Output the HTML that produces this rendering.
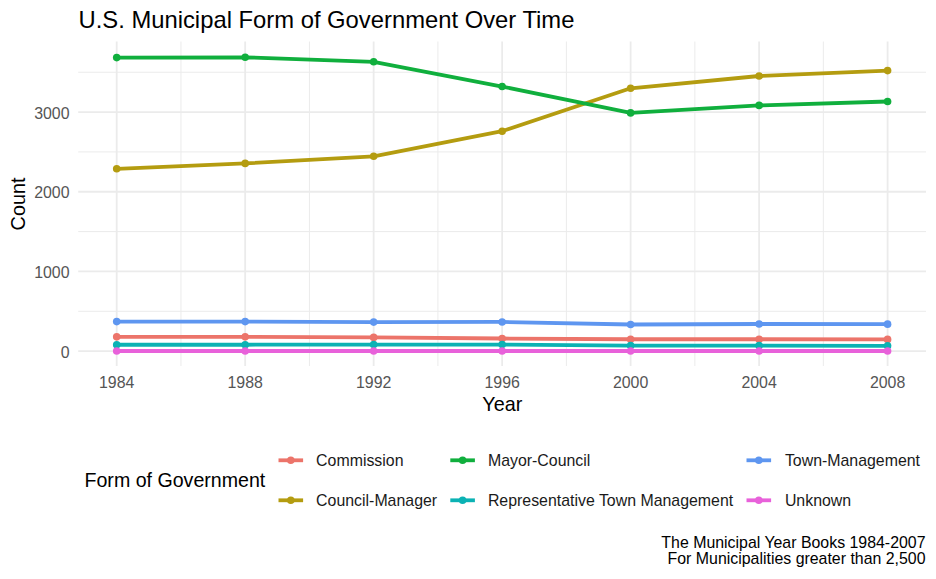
<!DOCTYPE html><html><head><meta charset="utf-8"><style>html,body{margin:0;padding:0;background:#fff;width:936px;height:579px;overflow:hidden}svg{display:block}text{font-family:"Liberation Sans",sans-serif}</style></head><body>
<svg width="936" height="579" viewBox="0 0 936 579">
<rect width="936" height="579" fill="#fff"/>
<line x1="78.2" y1="311.27" x2="926.0" y2="311.27" stroke="#EBEBEB" stroke-width="1"/>
<line x1="78.2" y1="231.60" x2="926.0" y2="231.60" stroke="#EBEBEB" stroke-width="1"/>
<line x1="78.2" y1="151.93" x2="926.0" y2="151.93" stroke="#EBEBEB" stroke-width="1"/>
<line x1="78.2" y1="72.25" x2="926.0" y2="72.25" stroke="#EBEBEB" stroke-width="1"/>
<line x1="180.94" y1="41.5" x2="180.94" y2="366.0" stroke="#EBEBEB" stroke-width="1"/>
<line x1="309.42" y1="41.5" x2="309.42" y2="366.0" stroke="#EBEBEB" stroke-width="1"/>
<line x1="437.90" y1="41.5" x2="437.90" y2="366.0" stroke="#EBEBEB" stroke-width="1"/>
<line x1="566.38" y1="41.5" x2="566.38" y2="366.0" stroke="#EBEBEB" stroke-width="1"/>
<line x1="694.86" y1="41.5" x2="694.86" y2="366.0" stroke="#EBEBEB" stroke-width="1"/>
<line x1="823.34" y1="41.5" x2="823.34" y2="366.0" stroke="#EBEBEB" stroke-width="1"/>
<line x1="78.2" y1="351.10" x2="926.0" y2="351.10" stroke="#EBEBEB" stroke-width="1.8"/>
<line x1="78.2" y1="271.43" x2="926.0" y2="271.43" stroke="#EBEBEB" stroke-width="1.8"/>
<line x1="78.2" y1="191.76" x2="926.0" y2="191.76" stroke="#EBEBEB" stroke-width="1.8"/>
<line x1="78.2" y1="112.09" x2="926.0" y2="112.09" stroke="#EBEBEB" stroke-width="1.8"/>
<line x1="116.70" y1="41.5" x2="116.70" y2="366.0" stroke="#EBEBEB" stroke-width="1.8"/>
<line x1="245.18" y1="41.5" x2="245.18" y2="366.0" stroke="#EBEBEB" stroke-width="1.8"/>
<line x1="373.66" y1="41.5" x2="373.66" y2="366.0" stroke="#EBEBEB" stroke-width="1.8"/>
<line x1="502.14" y1="41.5" x2="502.14" y2="366.0" stroke="#EBEBEB" stroke-width="1.8"/>
<line x1="630.62" y1="41.5" x2="630.62" y2="366.0" stroke="#EBEBEB" stroke-width="1.8"/>
<line x1="759.10" y1="41.5" x2="759.10" y2="366.0" stroke="#EBEBEB" stroke-width="1.8"/>
<line x1="887.58" y1="41.5" x2="887.58" y2="366.0" stroke="#EBEBEB" stroke-width="1.8"/>
<polyline points="116.70,336.84 245.18,336.84 373.66,337.40 502.14,338.51 630.62,339.23 759.10,339.23 887.58,339.39" fill="none" stroke="#EC746A" stroke-width="3.8" stroke-linejoin="round" stroke-linecap="butt"/>
<circle cx="116.70" cy="336.84" r="3.8" fill="#EC746A"/>
<circle cx="245.18" cy="336.84" r="3.8" fill="#EC746A"/>
<circle cx="373.66" cy="337.40" r="3.8" fill="#EC746A"/>
<circle cx="502.14" cy="338.51" r="3.8" fill="#EC746A"/>
<circle cx="630.62" cy="339.23" r="3.8" fill="#EC746A"/>
<circle cx="759.10" cy="339.23" r="3.8" fill="#EC746A"/>
<circle cx="887.58" cy="339.39" r="3.8" fill="#EC746A"/>
<polyline points="116.70,168.82 245.18,163.40 373.66,156.31 502.14,131.21 630.62,88.27 759.10,76.00 887.58,70.58" fill="none" stroke="#B49C10" stroke-width="3.8" stroke-linejoin="round" stroke-linecap="butt"/>
<circle cx="116.70" cy="168.82" r="3.8" fill="#B49C10"/>
<circle cx="245.18" cy="163.40" r="3.8" fill="#B49C10"/>
<circle cx="373.66" cy="156.31" r="3.8" fill="#B49C10"/>
<circle cx="502.14" cy="131.21" r="3.8" fill="#B49C10"/>
<circle cx="630.62" cy="88.27" r="3.8" fill="#B49C10"/>
<circle cx="759.10" cy="76.00" r="3.8" fill="#B49C10"/>
<circle cx="887.58" cy="70.58" r="3.8" fill="#B49C10"/>
<polyline points="116.70,57.60 245.18,57.28 373.66,61.82 502.14,86.52 630.62,112.89 759.10,105.40 887.58,101.49" fill="none" stroke="#10AF3D" stroke-width="3.8" stroke-linejoin="round" stroke-linecap="butt"/>
<circle cx="116.70" cy="57.60" r="3.8" fill="#10AF3D"/>
<circle cx="245.18" cy="57.28" r="3.8" fill="#10AF3D"/>
<circle cx="373.66" cy="61.82" r="3.8" fill="#10AF3D"/>
<circle cx="502.14" cy="86.52" r="3.8" fill="#10AF3D"/>
<circle cx="630.62" cy="112.89" r="3.8" fill="#10AF3D"/>
<circle cx="759.10" cy="105.40" r="3.8" fill="#10AF3D"/>
<circle cx="887.58" cy="101.49" r="3.8" fill="#10AF3D"/>
<polyline points="116.70,344.73 245.18,344.73 373.66,344.57 502.14,344.57 630.62,345.60 759.10,345.60 887.58,345.84" fill="none" stroke="#0BB2B4" stroke-width="3.8" stroke-linejoin="round" stroke-linecap="butt"/>
<circle cx="116.70" cy="344.73" r="3.8" fill="#0BB2B4"/>
<circle cx="245.18" cy="344.73" r="3.8" fill="#0BB2B4"/>
<circle cx="373.66" cy="344.57" r="3.8" fill="#0BB2B4"/>
<circle cx="502.14" cy="344.57" r="3.8" fill="#0BB2B4"/>
<circle cx="630.62" cy="345.60" r="3.8" fill="#0BB2B4"/>
<circle cx="759.10" cy="345.60" r="3.8" fill="#0BB2B4"/>
<circle cx="887.58" cy="345.84" r="3.8" fill="#0BB2B4"/>
<polyline points="116.70,321.62 245.18,321.62 373.66,322.10 502.14,321.94 630.62,324.49 759.10,324.01 887.58,324.17" fill="none" stroke="#5E96F0" stroke-width="3.8" stroke-linejoin="round" stroke-linecap="butt"/>
<circle cx="116.70" cy="321.62" r="3.8" fill="#5E96F0"/>
<circle cx="245.18" cy="321.62" r="3.8" fill="#5E96F0"/>
<circle cx="373.66" cy="322.10" r="3.8" fill="#5E96F0"/>
<circle cx="502.14" cy="321.94" r="3.8" fill="#5E96F0"/>
<circle cx="630.62" cy="324.49" r="3.8" fill="#5E96F0"/>
<circle cx="759.10" cy="324.01" r="3.8" fill="#5E96F0"/>
<circle cx="887.58" cy="324.17" r="3.8" fill="#5E96F0"/>
<polyline points="116.70,351.02 245.18,351.02 373.66,351.02 502.14,351.02 630.62,351.02 759.10,351.02 887.58,351.02" fill="none" stroke="#E861DA" stroke-width="3.8" stroke-linejoin="round" stroke-linecap="butt"/>
<circle cx="116.70" cy="351.02" r="3.8" fill="#E861DA"/>
<circle cx="245.18" cy="351.02" r="3.8" fill="#E861DA"/>
<circle cx="373.66" cy="351.02" r="3.8" fill="#E861DA"/>
<circle cx="502.14" cy="351.02" r="3.8" fill="#E861DA"/>
<circle cx="630.62" cy="351.02" r="3.8" fill="#E861DA"/>
<circle cx="759.10" cy="351.02" r="3.8" fill="#E861DA"/>
<circle cx="887.58" cy="351.02" r="3.8" fill="#E861DA"/>
<text x="69.5" y="357.80" font-size="15.9" fill="#555555" text-anchor="end">0</text>
<text x="69.5" y="278.13" font-size="15.9" fill="#555555" text-anchor="end">1000</text>
<text x="69.5" y="198.46" font-size="15.9" fill="#555555" text-anchor="end">2000</text>
<text x="69.5" y="118.79" font-size="15.9" fill="#555555" text-anchor="end">3000</text>
<text x="116.70" y="387.5" font-size="15.9" fill="#555555" text-anchor="middle">1984</text>
<text x="245.18" y="387.5" font-size="15.9" fill="#555555" text-anchor="middle">1988</text>
<text x="373.66" y="387.5" font-size="15.9" fill="#555555" text-anchor="middle">1992</text>
<text x="502.14" y="387.5" font-size="15.9" fill="#555555" text-anchor="middle">1996</text>
<text x="630.62" y="387.5" font-size="15.9" fill="#555555" text-anchor="middle">2000</text>
<text x="759.10" y="387.5" font-size="15.9" fill="#555555" text-anchor="middle">2004</text>
<text x="887.58" y="387.5" font-size="15.9" fill="#555555" text-anchor="middle">2008</text>
<text x="502.3" y="410.5" font-size="19.8" fill="#000" text-anchor="middle">Year</text>
<text transform="translate(24.8,204) rotate(-90)" font-size="19.8" fill="#000" text-anchor="middle">Count</text>
<text x="78.5" y="27.5" font-size="23.8" fill="#000">U.S. Municipal Form of Government Over Time</text>
<text x="84.5" y="487.4" font-size="19.6" fill="#000">Form of Government</text>
<line x1="278.5" y1="460.3" x2="303.1" y2="460.3" stroke="#EC746A" stroke-width="3.8"/>
<circle cx="290.8" cy="460.3" r="3.8" fill="#EC746A"/>
<text x="316.10" y="466.40000000000003" font-size="15.9" fill="#1A1A1A">Commission</text>
<line x1="278.5" y1="500.3" x2="303.1" y2="500.3" stroke="#B49C10" stroke-width="3.8"/>
<circle cx="290.8" cy="500.3" r="3.8" fill="#B49C10"/>
<text x="316.10" y="506.40000000000003" font-size="15.9" fill="#1A1A1A">Council-Manager</text>
<line x1="450.3" y1="460.3" x2="474.90000000000003" y2="460.3" stroke="#10AF3D" stroke-width="3.8"/>
<circle cx="462.6" cy="460.3" r="3.8" fill="#10AF3D"/>
<text x="487.90" y="466.40000000000003" font-size="15.9" fill="#1A1A1A">Mayor-Council</text>
<line x1="450.3" y1="500.3" x2="474.90000000000003" y2="500.3" stroke="#0BB2B4" stroke-width="3.8"/>
<circle cx="462.6" cy="500.3" r="3.8" fill="#0BB2B4"/>
<text x="487.90" y="506.40000000000003" font-size="15.9" fill="#1A1A1A">Representative Town Management</text>
<line x1="746.5" y1="460.3" x2="771.1" y2="460.3" stroke="#5E96F0" stroke-width="3.8"/>
<circle cx="758.8" cy="460.3" r="3.8" fill="#5E96F0"/>
<text x="784.90" y="466.40000000000003" font-size="15.9" fill="#1A1A1A">Town-Management</text>
<line x1="746.5" y1="500.3" x2="771.1" y2="500.3" stroke="#E861DA" stroke-width="3.8"/>
<circle cx="758.8" cy="500.3" r="3.8" fill="#E861DA"/>
<text x="784.90" y="506.40000000000003" font-size="15.9" fill="#1A1A1A">Unknown</text>
<text x="925.5" y="547.9" font-size="15.9" fill="#000" text-anchor="end">The Municipal Year Books 1984-2007</text>
<text x="925.5" y="564.1" font-size="15.9" fill="#000" text-anchor="end">For Municipalities greater than 2,500</text>
</svg></body></html>
